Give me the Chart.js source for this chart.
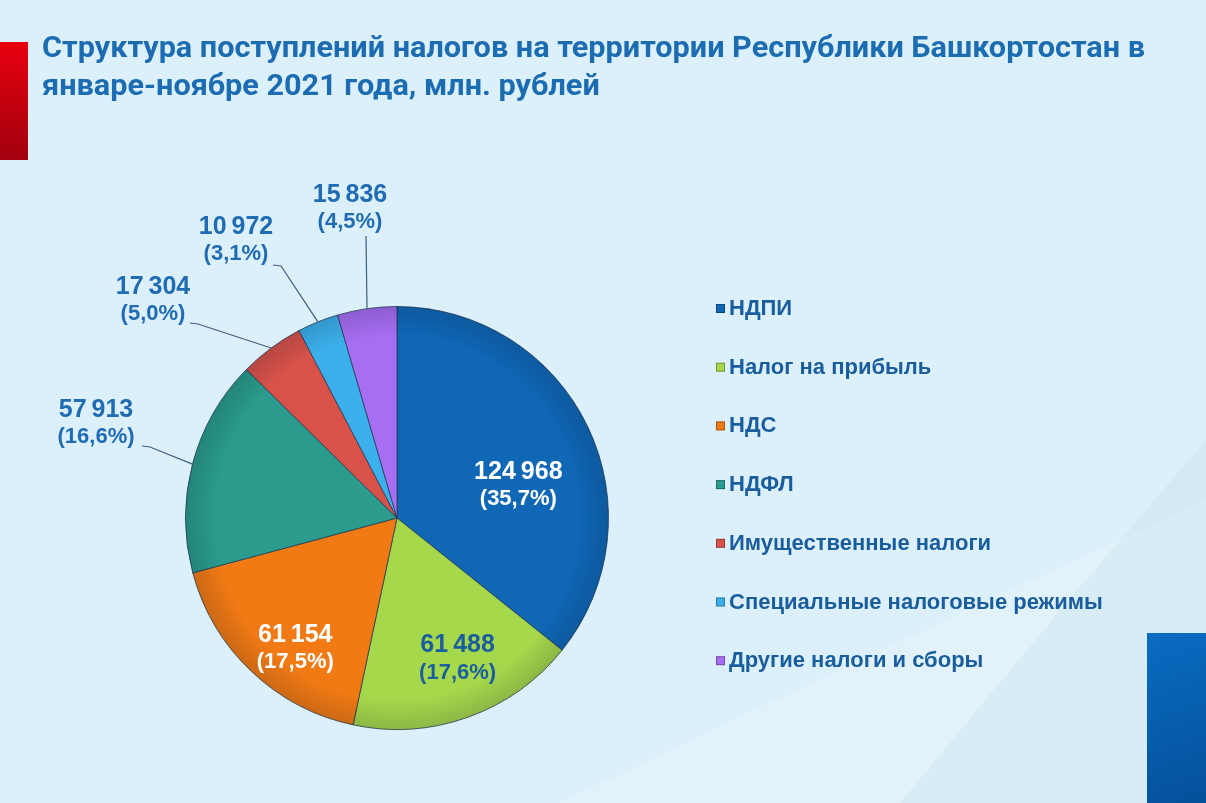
<!DOCTYPE html>
<html>
<head>
<meta charset="utf-8">
<script src="https://cdn.jsdelivr.net/npm/chart.js@4"></script>
<style>
  html, body { margin: 0; padding: 0; background: #dcf0fb; }
  #wrap { width: 1206px; height: 803px; position: relative; }
</style>
</head>
<body>
<div id="wrap"><canvas id="myChart" width="1206" height="803"></canvas></div>
<script>
const titleLines = ['Структура поступлений налогов на территории Республики Башкортостан в',
                    'январе-ноябре 2021 года, млн. рублей'];
const categories = ['НДПИ', 'Налог на прибыль', 'НДС', 'НДФЛ', 'Имущественные налоги',
                    'Специальные налоговые режимы', 'Другие налоги и сборы'];
const values = [124968, 61488, 61154, 57913, 17304, 10972, 15836];
const shares = ['35,7', '17,6', '17,5', '16,6', '5,0', '3,1', '4,5'];
const colors = ['#0f67b6', '#a6d84c', '#f27a14', '#2a9b8c', '#d9524a', '#3cb0ec', '#a76df2'];
const labelColors = ['#ffffff', '#1b5e9e', '#ffffff', '#1f6cb2', '#1f6cb2', '#1f6cb2', '#1f6cb2'];

// inside labels: nudge from the slice's tooltip point
const inside = { 0: [26, 0], 1: [25, 28], 2: [-29, 40] };
// outside labels: where the leader line ends and where the text sits
const outside = {
  3: { end: [142, 446], text: [96, 410] },
  4: { end: [190, 323], text: [153, 287] },
  5: { end: [273, 265], text: [236, 227] },
  6: { end: [366, 236], text: [350, 195] }
};

const fmtNum = v => String(v).replace(/\B(?=(\d{3})+(?!\d))/g, '\u2009');

const decor = {
  id: 'decor',
  beforeDraw(chart) {
    const c = chart.ctx;
    c.save();
    c.fillStyle = '#dcf0fb';
    c.fillRect(0, 0, chart.width, chart.height);
    // soft light shapes bottom right
    c.fillStyle = 'rgba(255,255,255,0.18)';
    c.beginPath();
    c.moveTo(560, 803); c.quadraticCurveTo(900, 640, 1206, 500); c.lineTo(1206, 803); c.closePath();
    c.fill();
    c.fillStyle = 'rgba(170,210,230,0.18)';
    c.beginPath();
    c.moveTo(900, 803); c.quadraticCurveTo(1050, 620, 1206, 440); c.lineTo(1206, 803); c.closePath();
    c.fill();
    // red bar
    let g = c.createLinearGradient(0, 42, 0, 160);
    g.addColorStop(0, '#e8000e');
    g.addColorStop(1, '#a1000d');
    c.fillStyle = g;
    c.fillRect(0, 42, 28, 118);
    // blue block
    g = c.createLinearGradient(1147, 633, 1206, 803);
    g.addColorStop(0, '#0a6cc2');
    g.addColorStop(1, '#04509a');
    c.fillStyle = g;
    c.fillRect(1147, 633, 59, 170);
    // title, squeezed to the width of the original
    c.fillStyle = '#1c6cb2';
    c.font = 'bold 29px Roboto';
    c.textBaseline = 'alphabetic';
    const w = c.measureText(titleLines[0]).width;
    const sx = 1103 / w;
    titleLines.forEach((t, i) => {
      c.save();
      c.translate(42, 57 + i * 38);
      c.scale(sx, 1);
      c.fillText(t, 0, 0);
      c.restore();
    });
    c.restore();
  },
  afterDatasetsDraw(chart) {
    // soft rim shading on the pie
    const arc = chart.getDatasetMeta(0).data[0];
    const p = arc.getProps(['x', 'y', 'outerRadius'], true);
    const c = chart.ctx;
    c.save();
    const g = c.createRadialGradient(p.x, p.y, p.outerRadius * 0.86, p.x, p.y, p.outerRadius);
    g.addColorStop(0, 'rgba(0,0,0,0)');
    g.addColorStop(1, 'rgba(0,20,40,0.16)');
    c.fillStyle = g;
    c.beginPath();
    c.arc(p.x, p.y, p.outerRadius, 0, Math.PI * 2);
    c.fill();
    c.restore();
  },
  afterDraw(chart) {
    const c = chart.ctx;
    c.save();
    // legend
    c.font = 'bold 22px "Liberation Sans", Arial';
    c.textBaseline = 'middle';
    categories.forEach((name, i) => {
      const y = 308 + i * 58.7;
      c.fillStyle = colors[i];
      c.fillRect(716, y - 4, 9, 9);
      c.strokeStyle = 'rgba(0,0,0,0.3)';
      c.lineWidth = 1;
      c.strokeRect(716.5, y - 3.5, 8, 8);
      c.fillStyle = '#1a5d9c';
      c.fillText(name, 729, y + 1);
    });
    // data labels
    const meta = chart.getDatasetMeta(0);
    c.textAlign = 'center';
    meta.data.forEach((arc, i) => {
      const p = arc.getProps(['x', 'y', 'startAngle', 'endAngle', 'outerRadius'], true);
      let tx, ty;
      if (outside[i]) {
        const mid = (p.startAngle + p.endAngle) / 2;
        const ex = p.x + Math.cos(mid) * p.outerRadius;
        const ey = p.y + Math.sin(mid) * p.outerRadius;
        const o = outside[i];
        c.strokeStyle = '#3d5f7e';
        c.lineWidth = 1.2;
        c.beginPath();
        c.moveTo(o.end[0], o.end[1]);
        if (i !== 6) c.lineTo(o.end[0] + 8, o.end[1] + 1);
        c.lineTo(ex, ey);
        c.stroke();
        tx = o.text[0]; ty = o.text[1];
      } else {
        const pos = arc.tooltipPosition();
        tx = pos.x + inside[i][0];
        ty = pos.y + inside[i][1];
      }
      c.fillStyle = labelColors[i];
      c.font = 'bold 25px "Liberation Sans", Arial';
      c.fillText(fmtNum(values[i]), tx, ty);
      c.font = 'bold 22px "Liberation Sans", Arial';
      c.fillText('(' + shares[i] + '%)', tx, ty + 27);
    });
    c.restore();
  }
};

new Chart(document.getElementById('myChart'), {
  type: 'pie',
  data: {
    labels: categories,
    datasets: [{
      data: values,
      backgroundColor: colors,
      borderColor: 'rgba(35,55,80,0.75)',
      borderWidth: 1
    }]
  },
  options: {
    responsive: false,
    animation: false,
    layout: { padding: { left: 185, top: 306, right: 597, bottom: 73 } },
    plugins: {
      legend: { display: false },
      title: { display: false },
      tooltip: { enabled: false }
    }
  },
  plugins: [decor]
});
</script>
</body>
</html>
